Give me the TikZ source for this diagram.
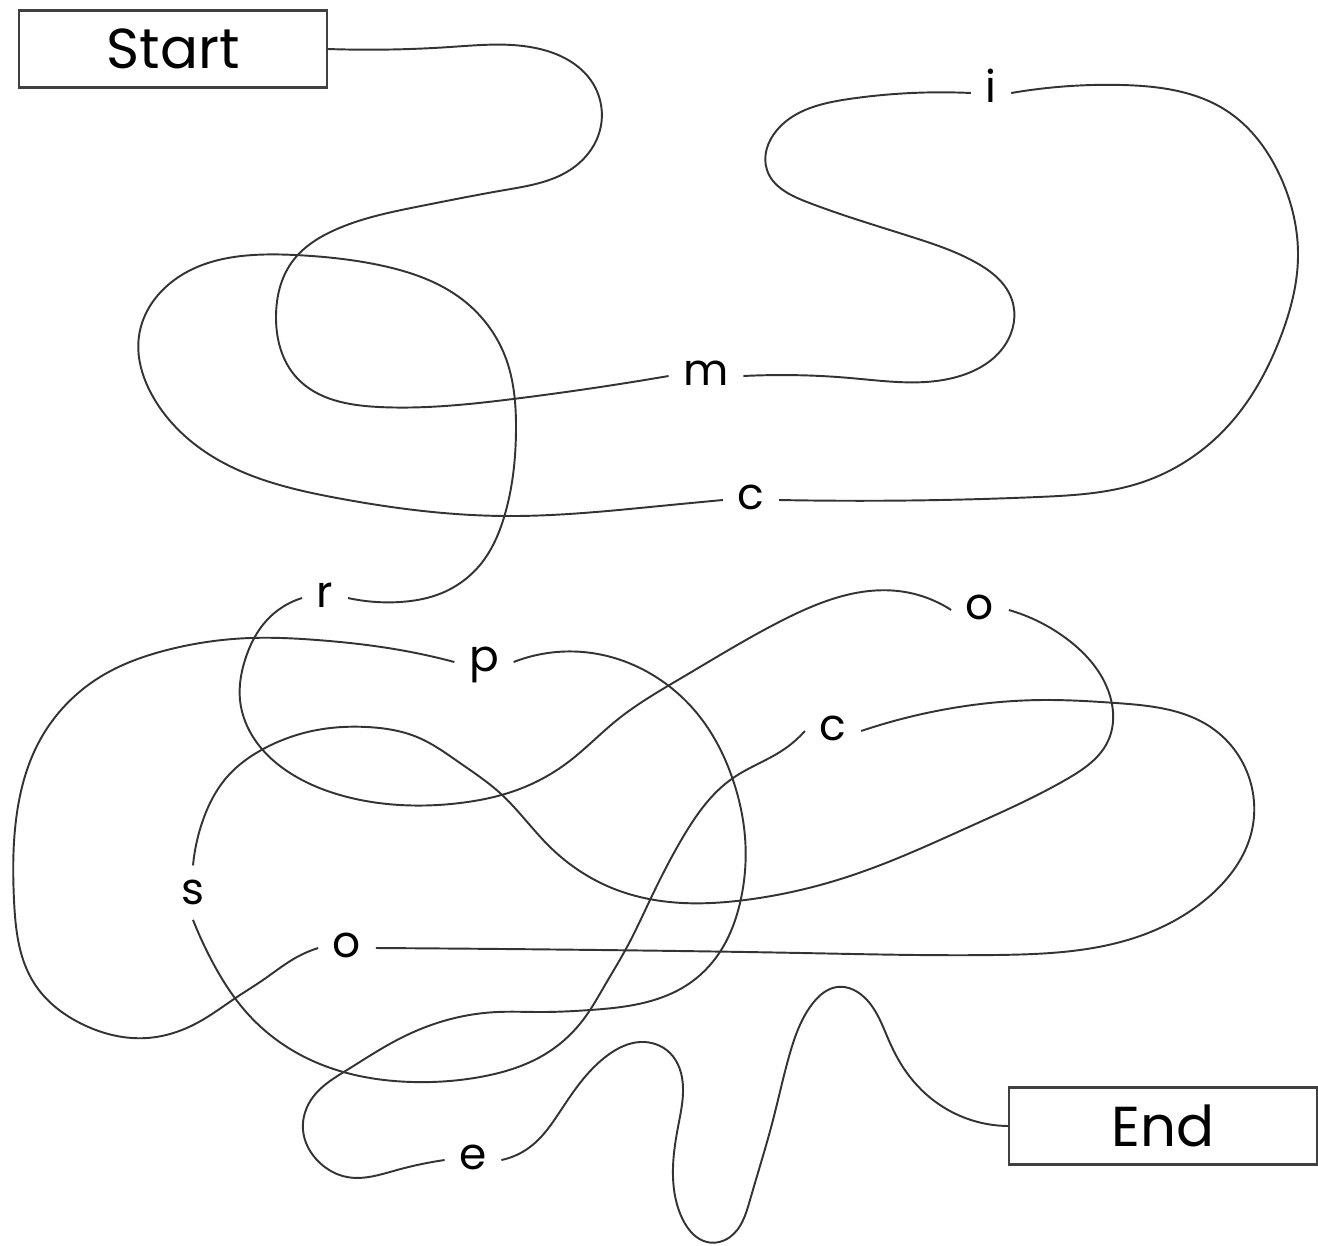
\documentclass[tikz,border=0pt]{standalone}
\usepackage{fontspec}
\setmainfont{Poppins}
\usepackage{tikz}
\usetikzlibrary{hobby}
\tikzstyle{box} = [rectangle, draw=black!75, line width=0.6pt, minimum width=3.07cm, minimum height=0.77cm, inner sep=0pt, font=\fontsize{16}{19}\selectfont]
\tikzstyle{letter} = [inner sep=4pt, anchor=mid, font=\fontsize{12.5}{15}\selectfont]
\tikzstyle{trail} = [draw=black!80, line width=0.55pt, use Hobby shortcut]

\begin{document}
\begin{tikzpicture}[x=0.01cm, y=-0.01cm]
    \useasboundingbox (0,0) rectangle (1318,1245);

    \node[box] (start) at (173,49) {Start};
    \node[box] (end) at (1163,1126) {End};

    \node[letter] (m) at (706,376) {m};
    \node[letter] (i) at (991,93) {i};
    \node[letter] (c-1) at (751,500) {c};
    \node[letter] (r) at (325,598) {r};
    \node[letter] (o-1) at (980,610) {o};
    \node[letter] (s) at (193,895) {s};
    \node[letter] (c-2) at (833,731) {c};
    \node[letter] (o-2) at (347,948) {o};
    \node[letter] (p) at (484,662) {p};
    \node[letter] (e) at (473,1160) {e};

    \draw[trail] (start.east) .. (450,47) .. (540,49) .. (592,82) .. (600,130) .. (570,170) .. (505,190) .. (421,206) .. (337,229) .. (292,262) .. (276,316) .. (297,378) .. (379,407) .. (513,399) .. (m.mid west);
    \draw[trail] (m.mid east) .. (850,378) .. (960,376) .. (1005,345) .. (1012,300) .. (975,262) .. (912,237) .. (807,202) .. (767,170) .. (777,130) .. (849,99) .. (i.mid west);
    \draw[trail] (i.mid east) .. (1122,85) .. (1227,111) .. (1281,178) .. (1298,257) .. (1281,336) .. (1227,427) .. (1143,482) .. (1038,497) .. (c-1.mid east);
    \draw[trail] (c-1.mid west) .. (660,506) .. (505,516) .. (337,498) .. (210,455) .. (152,395) .. (139,336) .. (168,285) .. (295,255) .. (379,265) .. (463,300) .. (505,356) .. (516,430) .. (505,514) .. (480,565) .. (442,593) .. (400,602) .. (r.mid east);
    \draw[trail] (r.mid west) .. (267,620) .. (245,660) .. (240,700) .. (255,740) .. (290,773) .. (340,795) .. (400,805) .. (460,803) .. (517,790) .. (567,763) .. (617,720) .. (683,677) .. (783,620) .. (898,591) .. (o-1.mid west);
    \draw[trail] (o-1.mid east) .. (1067,639) .. (1108,690) .. (1108,741) .. (1067,779) .. (971,826) .. (850,876) .. (745,900) .. (683,903) .. (617,890) .. (550,847) .. (500,793) .. (460,763) .. (417,737) .. (367,727) .. (317,730) .. (267,747) .. (227,777) .. (203,820) .. (s.north);
    \draw[trail] (s.south) .. (213,963) .. (247,1013) .. (297,1053) .. (347,1073) .. (413,1082) .. (480,1077) .. (547,1053) .. (583,1020) .. (605,985) .. (627,947) .. (650,900) .. (683,837) .. (733,778) .. (783,750) .. (c-2.mid west);
    \draw[trail] (c-2.mid east) .. (947,709) .. (1043,700) .. (1116,703) .. (1212,728) .. (1251,784) .. (1251,834) .. (1212,894) .. (1140,936) .. (995,955) .. (802,953) .. (600,950) .. (o-2.mid east);
    \draw[trail] (o-2.mid west) .. (297,957) .. (263,980) .. (237,997) .. (197,1023) .. (147,1038) .. (84,1025) .. (34,983) .. (14,900) .. (16,820) .. (40,740) .. (100,677) .. (167,650) .. (250,638) .. (317,640) .. (400,650) .. (p.mid west);
    \draw[trail] (p.mid east) .. (583,652) .. (640,668) .. (700,717) .. (733,780) .. (745,837) .. (740,903) .. (723,947) .. (690,983) .. (643,1003) .. (590,1010) .. (540,1012) .. (497,1012) .. (447,1020) .. (397,1040) .. (347,1070) .. (313,1097) .. (303,1130) .. (320,1163) .. (347,1177) .. (397,1170) .. (e.mid west);
    \draw[trail] (e.mid east) .. (530,1147) .. (563,1107) .. (608,1055) .. (640,1042) .. (670,1053) .. (683,1087) .. (678,1127) .. (673,1177) .. (683,1220) .. (707,1242) .. (730,1237) .. (750,1200) .. (773,1120) .. (790,1053) .. (813,1003) .. (837,987) .. (867,1000) .. (890,1043) .. (907,1073) .. (940,1105) .. (end.west);
\end{tikzpicture}
\end{document}
